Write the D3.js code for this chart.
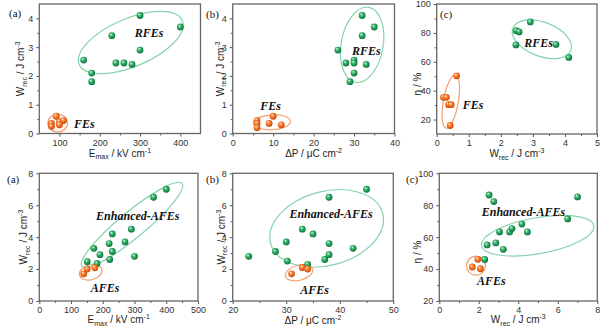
<!DOCTYPE html>
<html>
<head>
<meta charset="utf-8">
<script src="https://cdn.jsdelivr.net/npm/d3@7"></script>
<style>
  body { margin: 0; background: #fff; }
  text { font-family: "Liberation Sans", Arial, sans-serif; }
  .tag { font-family: "Liberation Serif", "Times New Roman", serif; font-weight: bold; font-style: italic; }
  .plabel { font-family: "Liberation Serif", "Times New Roman", serif; }
</style>
</head>
<body>
<script>
// ---- data ----
// top row
const rfeEmax = [160, 180, 180, 230, 240, 260, 280, 300, 300, 400];
const rfeWrecA = [2.55, 2.1, 1.8, 3.4, 2.45, 2.45, 2.4, 4.1, 2.9, 3.7];
const feEmax = [80, 80, 92, 100, 100, 110];
const feWrecA = [0.35, 0.25, 0.6, 0.4, 0.3, 0.45];

const rfeDP = [26, 28, 29, 30, 30, 30, 32, 32, 33, 35];
const rfeWrecB = [2.9, 2.45, 1.8, 2.55, 2.45, 2.1, 4.1, 3.4, 2.4, 3.7];
const feDP = [6, 6, 6, 9, 10, 12];
const feWrecB = [0.45, 0.35, 0.2, 0.35, 0.6, 0.3];

const rfeWrecC = [2.48, 2.57, 2.47, 2.92, 3.72, 4.12];
const rfeEta = [81.5, 80.7, 71.7, 87.6, 72, 63];
const feWrecC = [0.21, 0.3, 0.37, 0.45, 0.62, 0.42];
const feEta = [35.4, 35.4, 30.3, 30.3, 50.3, 15.9];

// bottom row
const eafeEmax = [151, 172, 182, 191, 220, 222, 230, 230, 270, 290, 300, 360, 400];
const eafeWrecA = [2.46, 3.3, 2.35, 2.9, 3.6, 2.6, 3.1, 4.2, 3.7, 4.5, 2.8, 6.5, 7.0];
const afeEmax = [140, 151, 175];
const afeWrecA = [1.7, 2.0, 2.08];

const eafeDP = [23, 28, 30, 30.2, 33, 34, 35, 37.2, 38, 38, 38, 42.5, 45];
const eafeWrecB = [2.8, 3.1, 3.7, 2.5, 4.5, 2.3, 4.2, 2.6, 2.9, 3.6, 6.5, 3.3, 7.0];
const afeDP = [31, 33, 34];
const afeWrecB = [1.7, 2.1, 2.0];

const eafeWrecC = [2.3, 2.52, 2.76, 2.42, 2.86, 3.05, 3.24, 3.56, 3.68, 4.18, 4.46, 6.5, 7.0];
const eafeEta = [46, 86.4, 82.3, 55.1, 56.4, 63.3, 52.4, 63.3, 65.4, 68.2, 63.3, 71.4, 85.2];
const afeWrecC = [1.67, 1.95, 2.08];
const afeEta = [41.3, 46.1, 40.2];

// axis ticks
const ticksEmaxTop = [100, 200, 300, 400];
const ticksWrecTop = [0, 1, 2, 3, 4];
const ticksDPTop = [0, 10, 20, 30, 40];
const ticksWrecXTop = [0, 1, 2, 3, 4, 5];
const ticksEtaTop = [20, 40, 60, 80, 100];
const ticksEmaxBot = [0, 100, 200, 300, 400, 500];
const ticksWrecBot = [0, 2, 4, 6, 8];
const ticksDPBot = [20, 30, 40, 50];
const ticksWrecXBot = [0, 2, 4, 6, 8];
const ticksEtaBot = [20, 40, 60, 80, 100];

const green = "#1f9d57", orange = "#f26a1e";
const greenLine = "#86d3ad", orangeLine = "#f2a06e";

const svg = d3.select("body").append("svg")
  .attr("width", 600).attr("height", 330);

const defs = svg.append("defs");
function ball(id, light, mid, dark) {
  const g = defs.append("radialGradient").attr("id", id)
    .attr("cx", "45%").attr("cy", "45%").attr("r", "60%")
    .attr("fx", "35%").attr("fy", "30%");
  g.append("stop").attr("offset", "0%").attr("stop-color", "#ffffff");
  g.append("stop").attr("offset", "25%").attr("stop-color", light);
  g.append("stop").attr("offset", "60%").attr("stop-color", mid);
  g.append("stop").attr("offset", "100%").attr("stop-color", dark);
}
ball("gball", "#5cc98a", green, "#0a6a33");
ball("oball", "#ff9a5a", orange, "#b84400");

// label with sub / superscript pieces: [text, "sub"|"sup"|null]
function richText(sel, parts) {
  let shift = 0;
  parts.forEach(p => {
    const t = sel.append("tspan").text(p[0]);
    let want = 0;
    if (p[1] == "sub") { want = 2.5; t.attr("font-size", "0.7em"); }
    if (p[1] == "sup") { want = -4; t.attr("font-size", "0.7em"); }
    t.attr("dy", want - shift);
    shift = want;
  });
}

function mids(t) {
  let m = [];
  for (let i = 0; i < t.length - 1; i++) m.push((t[i] + t[i + 1]) / 2);
  return m;
}

function panel(o) {
  const x = d3.scaleLinear().domain(o.xd).range(o.xr);
  const y = d3.scaleLinear().domain(o.yd).range(o.yr);
  const g = svg.append("g");

  // ellipses
  o.rings.forEach(r => {
    g.append("ellipse")
      .attr("transform", "translate(" + x(r.cx) + "," + y(r.cy) + ") rotate(" + r.a + ")")
      .attr("rx", r.rx).attr("ry", r.ry)
      .attr("fill", r.fill || "none")
      .attr("stroke", r.color).attr("stroke-width", 1.2);
  });

  // axes
  const xa = d3.axisBottom(x).tickValues(o.xt).tickSize(3).tickFormat(d3.format("d"));
  const xm = d3.axisBottom(x).tickValues(mids(o.xt).filter(v => v >= o.xd[0] && v <= o.xd[1])).tickSize(2).tickFormat("");
  const ya = d3.axisLeft(y).tickValues(o.yt).tickSize(3).tickFormat(d3.format("d"));
  const ym = d3.axisLeft(y).tickValues(mids(o.yt)).tickSize(2).tickFormat("");
  [xa, xm].forEach(a => {
    g.append("g").attr("transform", "translate(0," + o.yr[0] + ")").call(a)
      .call(s => s.select(".domain").remove());
  });
  [ya, ym].forEach(a => {
    g.append("g").attr("transform", "translate(" + o.xr[0] + ",0)").call(a)
      .call(s => s.select(".domain").remove());
  });
  g.selectAll(".tick line").attr("stroke", "#555");
  g.selectAll(".tick text").attr("font-size", 9).attr("fill", "#333")
    .attr("font-family", "Liberation Sans, Arial, sans-serif");

  g.append("rect")
    .attr("x", o.xr[0]).attr("y", o.yr[1])
    .attr("width", o.xr[1] - o.xr[0]).attr("height", o.yr[0] - o.yr[1])
    .attr("fill", "none").attr("stroke", "#666").attr("stroke-width", 1.3);

  // points
  o.sets.forEach(s => {
    g.selectAll(null).data(d3.zip(s.x, s.y)).enter()
      .append("circle")
      .attr("cx", d => x(d[0])).attr("cy", d => y(d[1]))
      .attr("r", 3.4)
      .attr("fill", "url(#" + s.grad + ")");
  });

  // group tags
  o.tags.forEach(t => {
    g.append("text").attr("class", "tag")
      .attr("x", x(t.x)).attr("y", y(t.y))
      .attr("font-size", 12).attr("fill", "#111")
      .text(t.text);
  });

  // axis titles
  const cx = (o.xr[0] + o.xr[1]) / 2;
  g.append("text").attr("x", cx).attr("y", o.yr[0] + o.xlabDy)
    .attr("text-anchor", "middle").attr("font-size", 10).attr("fill", "#222")
    .call(richText, o.xlab);
  const cy = o.ylabY || (o.yr[0] + o.yr[1]) / 2;
  g.append("text").attr("transform", "translate(" + (o.xr[0] + o.ylabDx) + "," + cy + ") rotate(-90)")
    .attr("text-anchor", "middle").attr("font-size", 10).attr("fill", "#222")
    .call(richText, o.ylab);

  g.append("text").attr("class", "plabel")
    .attr("x", o.pl[0]).attr("y", o.pl[1])
    .attr("font-size", 11).attr("fill", "#111").text(o.pltext);
}

const labEmax = [["E", null], ["max", "sub"], [" / kV cm", null], ["-1", "sup"]];
const labDP = [["\u0394P / \u03bcC cm", null], ["-2", "sup"]];
const labWrecY = [["W", null], ["rec", "sub"], [" / J cm", null], ["-3", "sup"]];
const labWrecX = [["W", null], ["rec", "sub"], [" / J cm", null], ["-3", "sup"]];
const labEta = [["\u03b7 / %", null]];

// ---- top row ----
panel({
  xd: [50, 450], xr: [39.3, 200.5], yd: [0, 4.5], yr: [133.5, 4],
  xt: ticksEmaxTop, yt: ticksWrecTop, xlab: labEmax, ylab: labWrecY,
  xlabDy: 23, ylabDx: -15, pl: [9, 17], pltext: "(a)",
  rings: [
    { cx: 277, cy: 3.16, rx: 56, ry: 24, a: -23, color: greenLine },
    { cx: 95.6, cy: 0.36, rx: 10, ry: 9, a: 0, color: orangeLine, fill: "#fff4ec" }
  ],
  sets: [
    { x: rfeEmax, y: rfeWrecA, grad: "gball" },
    { x: feEmax, y: feWrecA, grad: "oball" }
  ],
  tags: [{ x: 287, y: 3.36, text: "RFEs" }, { x: 136, y: 0.2, text: "FEs" }]
});
panel({
  xd: [0, 40], xr: [232.7, 394.5], yd: [0, 4.5], yr: [133.5, 4],
  xt: ticksDPTop, yt: ticksWrecTop, xlab: labDP, ylab: labWrecY,
  xlabDy: 23, ylabDx: -9, pl: [206, 18], pltext: "(b)",
  rings: [
    { cx: 32, cy: 3.08, rx: 21, ry: 38, a: 10, color: greenLine },
    { cx: 9.7, cy: 0.39, rx: 18.5, ry: 7.5, a: -3, color: orangeLine }
  ],
  sets: [
    { x: rfeDP, y: rfeWrecB, grad: "gball" },
    { x: feDP, y: feWrecB, grad: "oball" }
  ],
  tags: [{ x: 29.5, y: 2.73, text: "RFEs" }, { x: 6.8, y: 0.82, text: "FEs" }]
});
panel({
  xd: [0, 5], xr: [436.7, 597], yd: [10, 100], yr: [134, 4],
  xt: ticksWrecXTop, yt: ticksEtaTop, xlab: labWrecX, ylab: labEta,
  xlabDy: 23, ylabDx: -16, ylabY: 84, pl: [440, 18], pltext: "(c)",
  rings: [
    { cx: 3.28, cy: 75.6, rx: 31, ry: 17, a: 21, color: greenLine },
    { cx: 0.44, cy: 32.4, rx: 7.5, ry: 27, a: 10, color: orangeLine }
  ],
  sets: [
    { x: rfeWrecC, y: rfeEta, grad: "gball" },
    { x: feWrecC, y: feEta, grad: "oball" }
  ],
  tags: [{ x: 2.73, y: 70.2, text: "RFEs" }, { x: 0.81, y: 27.3, text: "FEs" }]
});

// ---- bottom row ----
panel({
  xd: [0, 500], xr: [39.3, 198], yd: [0, 8], yr: [301, 173.3],
  xt: ticksEmaxBot, yt: ticksWrecBot, xlab: labEmax, ylab: labWrecY,
  xlabDy: 22, ylabDx: -12, pl: [7, 183], pltext: "(a)",
  rings: [
    { cx: 292, cy: 4.76, rx: 65, ry: 13, a: -39.6, color: greenLine },
    { cx: 162, cy: 1.8, rx: 11.5, ry: 7.5, a: -15, color: orangeLine }
  ],
  sets: [
    { x: eafeEmax, y: eafeWrecA, grad: "gball" },
    { x: afeEmax, y: afeWrecA, grad: "oball" }
  ],
  tags: [{ x: 179, y: 5.07, text: "Enhanced-AFEs" }, { x: 162, y: 0.56, text: "AFEs" }]
});
panel({
  xd: [20, 50], xr: [232.7, 393.3], yd: [0, 8], yr: [301, 173.3],
  xt: ticksDPBot, yt: ticksWrecBot, xlab: labDP, ylab: labWrecY,
  xlabDy: 23, ylabDx: -8, pl: [206, 183], pltext: "(b)",
  rings: [
    { cx: 37.55, cy: 4.55, rx: 58, ry: 37, a: -15, color: greenLine },
    { cx: 32.4, cy: 1.77, rx: 14, ry: 7.5, a: -15, color: orangeLine }
  ],
  sets: [
    { x: eafeDP, y: eafeWrecB, grad: "gball" },
    { x: afeDP, y: afeWrecB, grad: "oball" }
  ],
  tags: [{ x: 30.6, y: 5.2, text: "Enhanced-AFEs" }, { x: 32.6, y: 0.44, text: "AFEs" }]
});
panel({
  xd: [0, 8], xr: [439.3, 597.3], yd: [20, 100], yr: [301, 173.3],
  xt: ticksWrecXBot, yt: ticksEtaBot, xlab: labWrecX, ylab: labEta,
  xlabDy: 22, ylabDx: -18, ylabY: 252, pl: [406, 183], pltext: "(c)",
  rings: [
    { cx: 4.98, cy: 60.9, rx: 57, ry: 18, a: -10, color: greenLine },
    { cx: 1.86, cy: 42.1, rx: 9.5, ry: 9.5, a: 0, color: orangeLine }
  ],
  sets: [
    { x: eafeWrecC, y: eafeEta, grad: "gball" },
    { x: afeWrecC, y: afeEta, grad: "oball" }
  ],
  tags: [{ x: 2.15, y: 73.3, text: "Enhanced-AFEs" }, { x: 1.91, y: 30, text: "AFEs" }]
});
</script>
</body>
</html>
